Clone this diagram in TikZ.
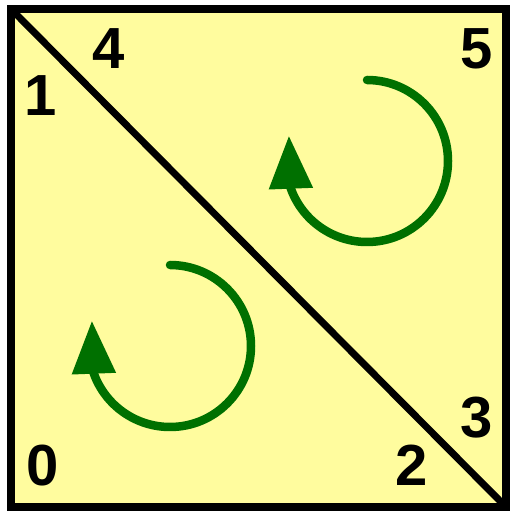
\documentclass[tikz,border=0pt]{standalone}
\usepackage{fontspec}
\setmainfont{Liberation Sans}
\usetikzlibrary{arrows.meta}

\begin{document}
\begin{tikzpicture}[
        x=1pt, y=1pt,
        num/.style={inner sep=0pt, font=\fontsize{58}{60}\selectfont\bfseries},
        edge/.style={line width=7pt},
        spin/.style={draw={rgb,255:red,0;green,112;blue,0}, line width=8.5pt, line cap=round,
            -{Triangle[length=53pt, width=42pt]}}
    ]
        \useasboundingbox (0,0) rectangle (510,511);
        \coordinate (bl) at (11,4);
        \coordinate (tr) at (506,502);
        \coordinate (tl) at (11,502);
        \coordinate (br) at (506,4);
        \draw[line width=7.5pt, fill={rgb,255:red,255;green,252;blue,158}] (bl) rectangle (tr);
        \draw[edge] (tl) -- (br);
        % vertex labels
        \node[num] (n0) at (43,45) {0};
        \node[num] (n1) at (41,415) {1};
        \node[num] (n2) at (412,46) {2};
        \node[num] (n3) at (477,93) {3};
        \node[num] (n4) at (109,462) {4};
        \node[num] (n5) at (477,462) {5};
        % orientation of the two triangles
        \draw[spin] (170,246) arc[start angle=90, end angle=-160, radius=81] -- ++(-2,53);
        \draw[spin] (367,431) arc[start angle=90, end angle=-160, radius=81] -- ++(-2,53);
    \end{tikzpicture}
\end{document}
